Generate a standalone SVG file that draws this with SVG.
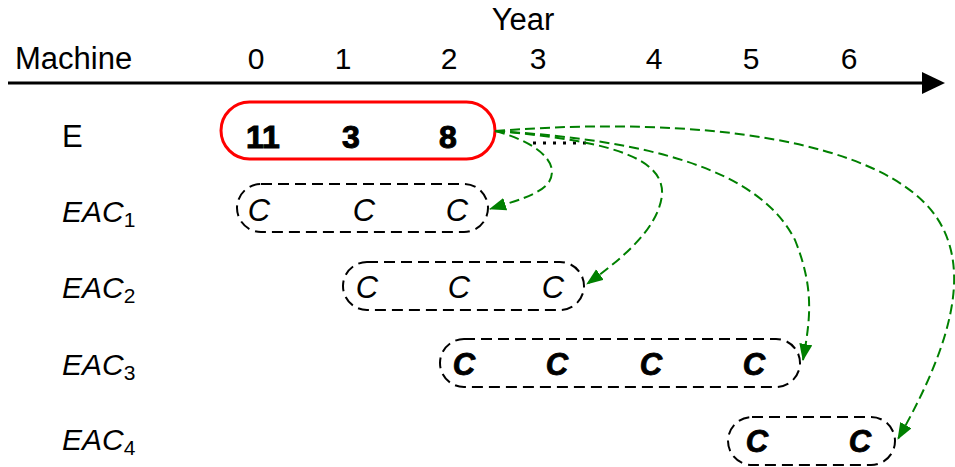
<svg xmlns="http://www.w3.org/2000/svg" width="955" height="467" viewBox="0 0 955 467">
<style>
text{font-family:"Liberation Sans",Arial,sans-serif;fill:#000}
.hdr{font-size:31px}
.num{font-size:30px;text-anchor:middle}
.big{font-size:32px;font-weight:bold;text-anchor:middle;stroke:#000;stroke-width:1}
.c{font-size:31px;font-style:italic;text-anchor:middle}
.cb{font-size:31px;font-style:italic;font-weight:bold;text-anchor:middle;stroke:#000;stroke-width:0.8}
.lab{font-size:30px;font-style:italic}
.sub{font-size:21px;font-style:normal}
.box{fill:none;stroke:#000;stroke-width:2;stroke-dasharray:11 6}
.arr{fill:none;stroke:#008000;stroke-width:2;stroke-dasharray:10 5;marker-end:url(#ah)}
</style>
<defs>
<marker id="ah" markerUnits="userSpaceOnUse" markerWidth="18" markerHeight="14" refX="16" refY="6.5" orient="auto">
<path d="M0,0 L17,6.5 L0,13 z" fill="#008000"/>
</marker>
</defs>
<rect width="955" height="467" fill="#fff"/>
<g id="axis">
<line x1="8" y1="83" x2="924" y2="83" stroke="#000" stroke-width="3"/>
<polygon points="922,72 945,83 922,94" fill="#000"/>
<text class="hdr" x="523" y="30" text-anchor="middle">Year</text>
<text class="hdr" x="15" y="69">Machine</text>
<text class="num" x="256" y="69">0</text>
<text class="num" x="343" y="69">1</text>
<text class="num" x="449" y="69">2</text>
<text class="num" x="538" y="69">3</text>
<text class="num" x="654" y="69">4</text>
<text class="num" x="751" y="69">5</text>
<text class="num" x="849" y="69">6</text>
</g>
<g id="E">
<text class="hdr" x="62" y="147">E</text>
<rect x="221" y="102" width="274" height="57" rx="28.5" fill="none" stroke="#f00" stroke-width="3"/>
<text class="big" x="263" y="148">11</text>
<text class="big" x="351" y="148">3</text>
<text class="big" x="448" y="148">8</text>
<line x1="533" y1="143" x2="590" y2="143" stroke="#000" stroke-width="3" stroke-dasharray="3 7"/>
</g>
<g id="EAC1">
<text class="lab" x="62" y="222">EAC<tspan class="sub" dy="5">1</tspan></text>
<rect class="box" x="237" y="184" width="251" height="48" rx="24"/>
<text class="c" x="259" y="221">C</text>
<text class="c" x="364" y="221">C</text>
<text class="c" x="457" y="221">C</text>
</g>
<g id="EAC2">
<text class="lab" x="62" y="298">EAC<tspan class="sub" dy="5">2</tspan></text>
<rect class="box" x="343" y="262" width="241" height="48" rx="24"/>
<text class="c" x="367" y="298">C</text>
<text class="c" x="459" y="298">C</text>
<text class="c" x="553" y="298">C</text>
</g>
<g id="EAC3">
<text class="lab" x="62" y="375">EAC<tspan class="sub" dy="5">3</tspan></text>
<rect class="box" x="440" y="339" width="360" height="48" rx="24"/>
<text class="cb" x="464" y="375">C</text>
<text class="cb" x="557" y="375">C</text>
<text class="cb" x="651" y="375">C</text>
<text class="cb" x="754" y="375">C</text>
</g>
<g id="EAC4">
<text class="lab" x="62" y="450">EAC<tspan class="sub" dy="5">4</tspan></text>
<rect class="box" x="728" y="417" width="167" height="48" rx="24"/>
<text class="cb" x="757" y="452">C</text>
<text class="cb" x="860" y="452">C</text>
</g>
<g id="connectors">
<path class="arr" d="M495,131 C530,140 562,160 549,182 C540,195 512,202 490,209"/>
<path class="arr" d="M495,131 C600,140 665,155 662,195 C658,230 620,260 587,284"/>
<path class="arr" d="M495,131 C650,140 760,170 795,240 C815,290 810,320 803,360"/>
<path class="arr" d="M495,131 C700,115 880,140 935,215 C968,262 960,330 898,439"/>
</g>
</svg>
